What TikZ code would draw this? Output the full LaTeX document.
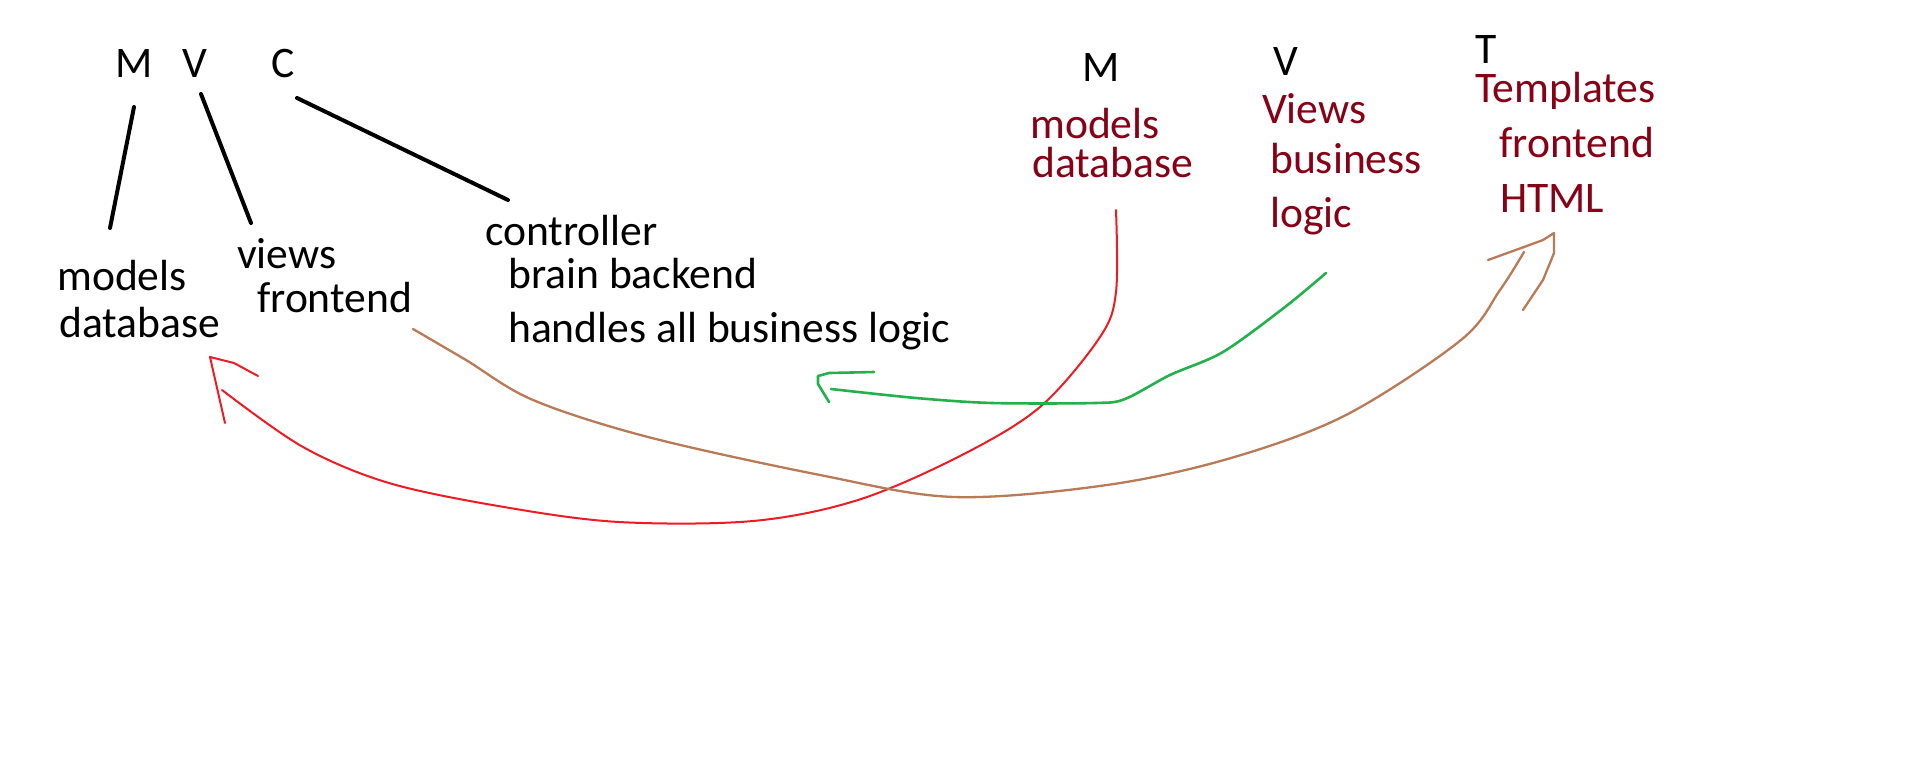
\documentclass[tikz,border=0pt]{standalone}
\usepackage{fontspec}
\setmainfont{Carlito}
\definecolor{darkred}{RGB}{136,0,21}
\definecolor{pred}{RGB}{237,28,36}
\definecolor{pgreen}{RGB}{34,177,76}
\definecolor{pbrown}{RGB}{185,122,87}
\tikzset{
  txt/.style={anchor=base west, inner sep=0pt, font=\fontsize{43.6}{52}\selectfont},
  blk/.style={txt, text=black},
  drd/.style={txt, text=darkred},
  stemline/.style={line width=4pt, line cap=round},
  redpen/.style={draw=pred, line width=2pt, line join=round, line cap=round},
  greenpen/.style={draw=pgreen, line width=2.6pt, line join=round, line cap=round},
  brownpen/.style={draw=pbrown, line width=2.3pt, line join=round, line cap=round}
}
\begin{document}
\begin{tikzpicture}[x=1pt,y=-1pt]
\fill[white] (0,0) rectangle (1914,782);
\useasboundingbox (0,0) rectangle (1914,782);

% left MVC
\node[blk] (M1) at (115,77) {M};
\node[blk] (V1) at (182,77) {V};
\node[blk] (C1) at (271,77) {C};
\node[blk] (models1) at (57,290) {models};
\node[blk] (database1) at (59,337) {database};
\node[blk] (views1) at (237,268) {views};
\node[blk] (frontend1) at (257,312) {frontend};
\node[blk] (controller) at (485,245) {controller};
\node[blk] (brain) at (508,288) {brain backend};
\node[blk] (handles) at (508,342) {handles all business logic};

% right MVT
\node[blk] (M2) at (1082,81) {M};
\node[blk] (V2) at (1273,75) {V};
\node[blk] (T2) at (1475,63) {T};
\node[drd] (models2) at (1030,138) {models};
\node[drd] (database2) at (1032,177) {database};
\node[drd] (views2) at (1262,123) {Views};
\node[drd] (business2) at (1270,173) {business};
\node[drd] (logic2) at (1270,227) {logic};
\node[drd] (templates) at (1475,102) {Templates};
\node[drd] (frontend2) at (1499,157) {frontend};
\node[drd] (html) at (1500,212) {HTML};

% black stems
\coordinate (mA) at (134,107); \coordinate (mB) at (110,228);
\coordinate (vA) at (201,94);  \coordinate (vB) at (251,223);
\coordinate (cA) at (297,98);  \coordinate (cB) at (508,200);
\draw[stemline] (mA) -- (mB);
\draw[stemline] (vA) -- (vB);
\draw[stemline] (cA) -- (cB);

% red arrow: models database (right) -> models database (left)
\coordinate (rS) at (1116,210);
\coordinate (rE) at (222,390);
\coordinate (rT) at (210,357);
\coordinate (rH1) at (258,376);
\coordinate (rH2) at (225,423);
\draw[redpen] plot[smooth, tension=0.55] coordinates {(rS) (1116,292) (1100,337) (1040,407) (960,456) (858,500) (753,521) (619,522) (504,507) (389,483) (303,447) (rE)};
\draw[redpen] (rH1) -- (234,363) -- (rT) -- (rH2);

% green arrow: Views business logic -> controller
\coordinate (gS) at (1326,273);
\coordinate (gE) at (831,389);
\coordinate (gH1) at (874,372);
\coordinate (gT) at (818,376);
\coordinate (gH2) at (829,402);
\draw[greenpen] plot[smooth, tension=0.5] coordinates {(gS) (1285,307) (1223,352) (1170,375) (1125,399) (1095,403) (992,403) (916,398) (gE)};
\draw[greenpen] (gH1) -- (829,373) -- (gT) -- (818,384) -- (gH2);

% brown arrow: views frontend -> Templates
\coordinate (bS) at (413,329);
\coordinate (bE) at (1524,252);
\coordinate (bT) at (1554,233);
\coordinate (bH1) at (1488,260);
\coordinate (bH2) at (1523,310);
\draw[brownpen] plot[smooth, tension=0.55] coordinates {(bS) (466,360) (533,400) (648,437) (820,475) (954,497) (1107,485) (1231,458) (1346,415) (1461,340) (1500,290) (bE)};
\draw[brownpen] (bH1) -- (1524,247) -- (1543,240) -- (bT) -- (1554,253) -- (1543,280) -- (bH2);
\end{tikzpicture}
\end{document}
